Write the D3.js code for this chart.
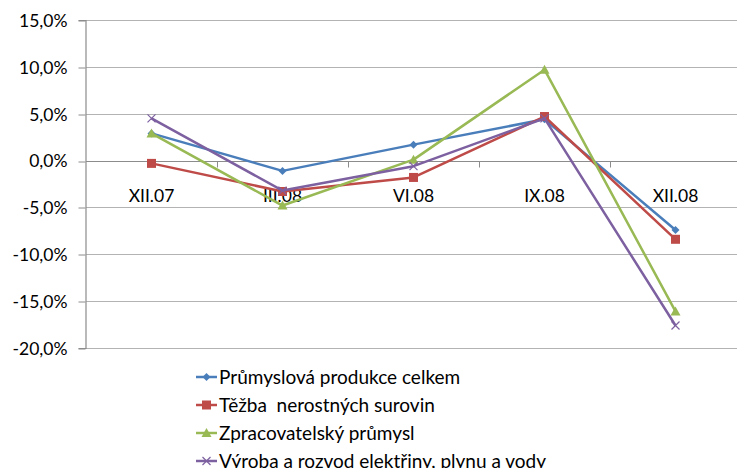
<!DOCTYPE html>
<html>
<head>
<meta charset="utf-8">
<script src="https://cdn.jsdelivr.net/npm/d3@7"></script>
<style>
  html, body { margin: 0; padding: 0; background: #fff; }
  svg { display: block; }
  text { font-family: Lato, "Liberation Sans", sans-serif; fill: #000; white-space: pre; }
</style>
</head>
<body>
<svg id="chart" width="737" height="468"></svg>
<script>
// Quarterly periods
const categories = ["XII.07", "III.08", "VI.08", "IX.08", "XII.08"];

// Year-on-year change, in percent
const celkem       = [2.9, -1.1, 1.7, 4.4, -7.4];
const tezba        = [-0.3, -3.3, -1.8, 4.7, -8.4];
const zpracovatel  = [2.9, -4.8, 0.1, 9.7, -16.1];
const energie      = [4.5, -3.2, -0.6, 4.5, -17.6];

const seriesNames = [
  "Průmyslová produkce celkem",
  "Těžba  nerostných surovin",
  "Zpracovatelský průmysl",
  "Výroba a rozvod elektřiny, plynu a vody"
];

const yTicks = [15, 10, 5, 0, -5, -10, -15, -20];

const colors = ["#4A7EBB", "#BE4B48", "#98B954", "#7D60A0"];
const markers = ["diamond", "square", "triangle", "cross"];
const seriesValues = [celkem, tezba, zpracovatel, energie];

const svg = d3.select("#chart");
const plotLeft = 86, plotRight = 741, plotTop = 20, plotBottom = 348;

const x = d3.scaleBand().domain(categories).range([plotLeft, plotRight]);
const y = d3.scaleLinear().domain([-20, 15]).range([plotBottom, plotTop]);

const fmt = v => d3.format(".1f")(v).replace(".", ",").replace("−", "-") + "%";

// Horizontal gridlines
svg.append("g")
  .selectAll("line")
  .data(yTicks)
  .join("line")
  .attr("x1", plotLeft).attr("x2", 737)
  .attr("y1", d => Math.round(y(d)) + 0.5).attr("y2", d => Math.round(y(d)) + 0.5)
  .attr("stroke", "#b3b3b3").attr("stroke-width", 1.2);

// Value axis
const yAxis = svg.append("g")
  .attr("transform", `translate(${plotLeft - 0.5},0)`)
  .call(d3.axisLeft(y).tickValues(yTicks).tickSize(7).tickPadding(11).tickFormat(fmt));
yAxis.select(".domain").attr("stroke", "#8c8c8c").attr("stroke-width", 1.2);
yAxis.selectAll(".tick line").attr("stroke", "#8c8c8c").attr("transform", d => `translate(0,${Math.round(y(d)) + 0.5 - y(d)})`);
yAxis.selectAll(".tick text")
  .style("font-size", "17.5px").attr("fill", "#000").attr("dy", "0.36em");

// Category axis along the zero line
const x0 = Math.round(y(0)) + 0.5;
const xAxis = svg.append("g")
  .attr("transform", `translate(0,${x0})`);
xAxis.append("line")
  .attr("x1", plotLeft).attr("x2", 737).attr("stroke", "#8c8c8c").attr("stroke-width", 1.2);
xAxis.selectAll("line.tick")
  .data(categories.slice(1))
  .join("line")
  .attr("class", "tick")
  .attr("x1", d => Math.round(x(d)) + 0.5).attr("x2", d => Math.round(x(d)) + 0.5)
  .attr("y1", 0).attr("y2", 6)
  .attr("stroke", "#8c8c8c");
xAxis.selectAll("text")
  .data(categories)
  .join("text")
  .attr("x", d => x(d) + x.bandwidth() / 2)
  .attr("y", 40)
  .attr("text-anchor", "middle")
  .style("font-size", "17.5px")
  .text(d => d);

// Marker shapes
function drawMarker(g, type, color, cx, cy) {
  if (type === "diamond") {
    g.append("path").attr("d", `M${cx},${cy - 4}L${cx + 4},${cy}L${cx},${cy + 4}L${cx - 4},${cy}Z`)
      .attr("fill", color);
  } else if (type === "square") {
    g.append("rect").attr("x", cx - 4.5).attr("y", cy - 4.5).attr("width", 9).attr("height", 9)
      .attr("fill", color);
  } else if (type === "triangle") {
    g.append("path").attr("d", `M${cx},${cy - 5}L${cx + 5},${cy + 4}L${cx - 5},${cy + 4}Z`)
      .attr("fill", color);
  } else {
    g.append("path").attr("d", `M${cx - 4},${cy - 4}L${cx + 4},${cy + 4}M${cx - 4},${cy + 4}L${cx + 4},${cy - 4}`)
      .attr("stroke", color).attr("stroke-width", 1.2).attr("fill", "none");
  }
}

const line = d3.line()
  .x((d, i) => x(categories[i]) + x.bandwidth() / 2)
  .y(d => y(d));

seriesValues.forEach((vals, s) => {
  const g = svg.append("g");
  g.append("path")
    .datum(vals)
    .attr("d", line)
    .attr("fill", "none")
    .attr("stroke", colors[s])
    .attr("stroke-width", 2.5)
    .attr("stroke-linejoin", "round");
  vals.forEach((v, i) => {
    drawMarker(g, markers[s], colors[s], x(categories[i]) + x.bandwidth() / 2, y(v));
  });
});

// Legend
const legend = svg.append("g");
seriesNames.forEach((name, s) => {
  const ly = 377 + s * 28;
  const g = legend.append("g");
  g.append("line").attr("x1", 196).attr("x2", 217).attr("y1", ly).attr("y2", ly)
    .attr("stroke", colors[s]).attr("stroke-width", 2.5);
  drawMarker(g, markers[s], colors[s], 206.5, ly);
  g.append("text").attr("x", 219).attr("y", ly).attr("dy", "0.36em")
    .style("font-size", "19px").text(name);
});
</script>
</body>
</html>
